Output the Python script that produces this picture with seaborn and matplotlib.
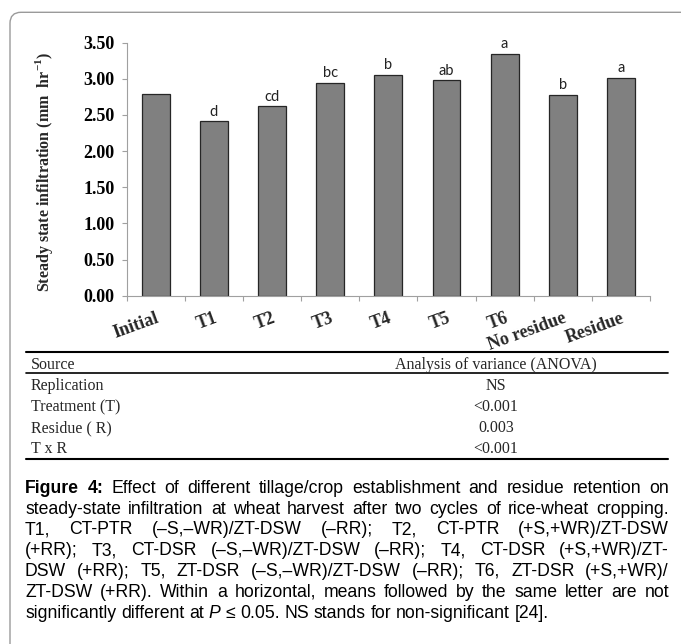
import numpy as np
import pandas as pd
import matplotlib
matplotlib.use("Agg")
import matplotlib.pyplot as plt
import seaborn as sns
from matplotlib.patches import FancyBboxPatch
from matplotlib.lines import Line2D

# ---------------- data ----------------
categories = ["Initial", "T1", "T2", "T3", "T4", "T5", "T6", "No residue", "Residue"]
infiltration = [2.79, 2.41, 2.62, 2.94, 3.05, 2.98, 3.35, 2.78, 3.01]
letters = ["", "d", "cd", "bc", "b", "ab", "a", "b", "a"]
y_ticks = [0.0, 0.5, 1.0, 1.5, 2.0, 2.5, 3.0, 3.5]

table_header = ["Source", "Analysis of variance (ANOVA)"]
table_sources = ["Replication", "Treatment (T)", "Residue ( R)", "T x R"]
table_pvalues = ["NS", "<0.001", "0.003", "<0.001"]

caption_lines = [
    "Figure 4: Effect of different tillage/crop establishment and residue retention on",
    "steady-state infiltration at wheat harvest after two cycles of rice-wheat cropping.",
    "T1, CT-PTR (\u2013S,\u2013WR)/ZT-DSW (\u2013RR); T2, CT-PTR (+S,+WR)/ZT-DSW",
    "(+RR); T3, CT-DSR (\u2013S,\u2013WR)/ZT-DSW (\u2013RR); T4, CT-DSR (+S,+WR)/ZT-",
    "DSW (+RR); T5, ZT-DSR (\u2013S,\u2013WR)/ZT-DSW (\u2013RR); T6, ZT-DSR (+S,+WR)/",
    "ZT-DSW (+RR). Within a horizontal, means followed by the same letter are not",
    "significantly different at P \u2264 0.05. NS stands for non-significant [24].",
]
bold_words = {(0, 0), (0, 1)}
italic_words = {(6, 3)}

# ---------------- setup ----------------
W, H, DPI = 681, 644, 100
sns.set_theme(style="white")
plt.rcParams["font.family"] = ["Liberation Serif", "DejaVu Serif"]
plt.rcParams["mathtext.fontset"] = "custom"
plt.rcParams["mathtext.rm"] = "Liberation Serif"
plt.rcParams["mathtext.bf"] = "Liberation Serif:bold"

fig = plt.figure(figsize=(W / DPI, H / DPI), dpi=DPI)
fig.patch.set_facecolor("white")


def fx(x):
    return x / W


def fy(y):
    return 1 - y / H


# outer rounded frame
frame = FancyBboxPatch((10 / DPI, -0.6), 7.2, (H - 12.3) / DPI + 0.6,
                       boxstyle="round,pad=0,rounding_size=0.11",
                       transform=fig.dpi_scale_trans, facecolor="none",
                       edgecolor="#9a9a9a", linewidth=1.0)
fig.add_artist(frame)

# ---------------- chart ----------------
ax_l, ax_r, ax_t, ax_b = 126.7, 650.0, 42.7, 295.7
ax = fig.add_axes([fx(ax_l), fy(ax_b), (ax_r - ax_l) / W, (ax_b - ax_t) / H])
ax.set_facecolor("none")
df = pd.DataFrame({"Category": categories, "Infiltration": infiltration})
sns.barplot(data=df, x="Category", y="Infiltration", order=categories,
            color="#808080", saturation=1, width=0.48,
            edgecolor="#262626", linewidth=0.9, ax=ax)
ax.set_xlim(-0.5, len(categories) - 0.5)
ax.set_ylim(0, 3.5)
ax.set_yticks(y_ticks)
ax.set_yticklabels([f"{v:.2f}" for v in y_ticks], fontweight="bold", fontsize=13)

ax.bar_label(ax.containers[0], labels=letters, padding=2,
             fontfamily="Lato", fontsize=10.5, color="#222222")

for s in ["top", "right"]:
    ax.spines[s].set_visible(False)
for s in ["left", "bottom"]:
    ax.spines[s].set_color("#a0a0a0")
    ax.spines[s].set_linewidth(0.8)

ax.tick_params(axis="y", left=True, length=3.4, width=0.8, color="#a0a0a0",
               pad=5.5, labelcolor="black")
ax.set_xticks(np.arange(-0.5, len(categories)), minor=True)
ax.tick_params(axis="x", which="major", bottom=True, length=0, pad=10)
ax.tick_params(axis="x", which="minor", bottom=True, length=3.6, width=0.8,
               color="#a0a0a0")
ax.set_xticks(range(len(categories)))
ax.set_xticklabels(categories, fontweight="bold", fontsize=13)
for lab in ax.get_xticklabels():
    lab.set_rotation(20)
    lab.set_ha("right")
    lab.set_va("top")
    lab.set_rotation_mode("anchor")

ax.set_xlabel("")
ax.set_ylabel(r"Steady state infiltration (mm  hr$^{\mathbf{-1}}$)",
              fontweight="bold", fontsize=11.5)
ax.yaxis.set_label_coords(-0.137, 0.49)

# ---------------- ANOVA table ----------------
tab_l, tab_r = 25.7, 668.0
for yy, lw in [(352.3, 1.5), (372.7, 1.2), (459.0, 1.5)]:
    fig.add_artist(Line2D([fx(tab_l), fx(tab_r)], [fy(yy), fy(yy)],
                          transform=fig.transFigure, color="black", linewidth=lw))
tfs = 11.5
fig.text(fx(30.7), fy(369.3), table_header[0], ha="left", va="baseline", fontsize=tfs)
fig.text(fx(496), fy(369.3), table_header[1], ha="center", va="baseline", fontsize=tfs)
for i, (src, pv) in enumerate(zip(table_sources, table_pvalues)):
    yb = 390.3 + i * 21.0
    fig.text(fx(30.7), fy(yb), src, ha="left", va="baseline", fontsize=tfs)
    fig.text(fx(496), fy(yb), pv, ha="center", va="baseline", fontsize=tfs)

# ---------------- caption (justified) ----------------
renderer = fig.canvas.get_renderer()
cap_family = ["Liberation Sans", "DejaVu Sans"]
cap_l, cap_r = 25.0, 669.0
cap_fs = 12.7


def width_of(s, fs, weight="normal", style="normal"):
    t = fig.text(0, 0, s, fontsize=fs, family=cap_family, fontweight=weight,
                 fontstyle=style)
    w = t.get_window_extent(renderer).width
    t.remove()
    return w


space_w = width_of("a a", cap_fs) - width_of("aa", cap_fs)

for li, line in enumerate(caption_lines):
    words = line.split(" ")
    styles = []
    widths = []
    for wi, wd in enumerate(words):
        weight = "bold" if (li, wi) in bold_words else "normal"
        style = "italic" if (li, wi) in italic_words else "normal"
        styles.append((weight, style))
        widths.append(width_of(wd, cap_fs, weight, style))
    if li < len(caption_lines) - 1 and len(words) > 1:
        gap = (cap_r - cap_l - sum(widths)) / (len(words) - 1)
    else:
        gap = space_w
    x = cap_l
    yb = 492.7 + li * 20.8
    for wd, (weight, style), w in zip(words, styles, widths):
        fig.text(fx(x), fy(yb), wd, ha="left", va="baseline", fontsize=cap_fs,
                 family=cap_family, fontweight=weight, fontstyle=style,
                 color="black")
        x += w + gap

fig.savefig("out.png", dpi=DPI)
